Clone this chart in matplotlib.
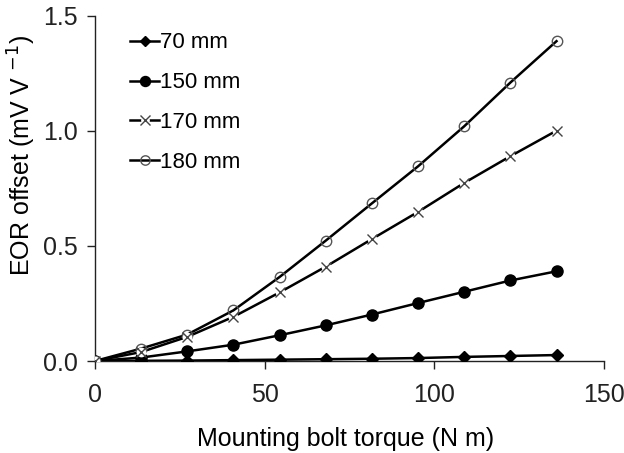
import numpy as np
import matplotlib.pyplot as plt
from matplotlib.legend_handler import HandlerTuple

plt.rcParams['font.family'] = ['Liberation Sans', 'DejaVu Sans']

# torque steps (N m)
torque = [0, 13.6, 27.2, 40.8, 54.4, 68.0, 81.6, 95.2, 108.8, 122.4, 136.0]

# EOR offset (mV V-1) per distance
eor_70 = [0.0, 0.001, 0.002, 0.004, 0.006, 0.008, 0.010, 0.013, 0.018, 0.022, 0.026]
eor_150 = [0.0, 0.015, 0.042, 0.071, 0.112, 0.155, 0.202, 0.252, 0.301, 0.350, 0.390]
eor_170 = [0.0, 0.039, 0.105, 0.192, 0.298, 0.410, 0.530, 0.648, 0.774, 0.890, 1.001]
eor_180 = [0.0, 0.054, 0.115, 0.220, 0.365, 0.523, 0.685, 0.846, 1.020, 1.210, 1.390]

fig = plt.figure(figsize=(6.24, 4.53), dpi=100)
ax = fig.add_axes([0.152, 0.203, 0.816, 0.762])

lw = 1.8
h70, = ax.plot(torque, eor_70, color='black', lw=lw, marker='D', ms=6,
               mfc='black', mec='black', zorder=3)
h150, = ax.plot(torque, eor_150, color='black', lw=lw, marker='o', ms=8,
                mfc='black', mec='black', zorder=3)
l170, = ax.plot(torque, eor_170, color='black', lw=lw, zorder=3)
w170, = ax.plot(torque, eor_170, ls='none', marker='o', ms=7, mfc='white',
                mec='none', zorder=4)
x170, = ax.plot(torque, eor_170, ls='none', marker='x', ms=7.5, mew=1.0,
                color='#444444', zorder=5)
h180, = ax.plot(torque, eor_180, color='black', lw=lw, marker='o', ms=7.5,
                mfc='none', mec='#555555', mew=1.0, zorder=3)

ax.legend([h70, h150, (l170, w170, x170), h180],
          ['70 mm', '150 mm', '170 mm', '180 mm'],
          handler_map={tuple: HandlerTuple(ndivide=1, pad=0)},
          loc='upper left', bbox_to_anchor=(0.03, 1.01), frameon=False,
          fontsize=16, handlelength=1.3, handletextpad=0.05,
          labelspacing=0.85, markerscale=0.9)

ax.set_xlim(0, 150)
ax.set_ylim(0, 1.5)
ax.set_xticks([0, 50, 100, 150])
ax.set_yticks([0.0, 0.5, 1.0, 1.5])
ax.set_yticklabels(['0.0', '0.5', '1.0', '1.5'])
ax.spines['top'].set_visible(False)
ax.spines['right'].set_visible(False)
for s in ('left', 'bottom'):
    ax.spines[s].set_linewidth(1.0)
    ax.spines[s].set_color('#222222')
ax.tick_params(direction='out', length=6, width=1.0, labelsize=18,
               colors='#222222', pad=6)
ax.tick_params(axis='x', pad=10)

ax.set_xlabel('Mounting bolt torque (N m)', fontsize=18)
ax.set_ylabel('EOR offset (mV V $^{-1}$)', fontsize=18)
ax.xaxis.set_label_coords(0.492, -0.19)
ax.yaxis.set_label_coords(-0.112, 0.597)

fig.savefig('out.png', dpi=100)
